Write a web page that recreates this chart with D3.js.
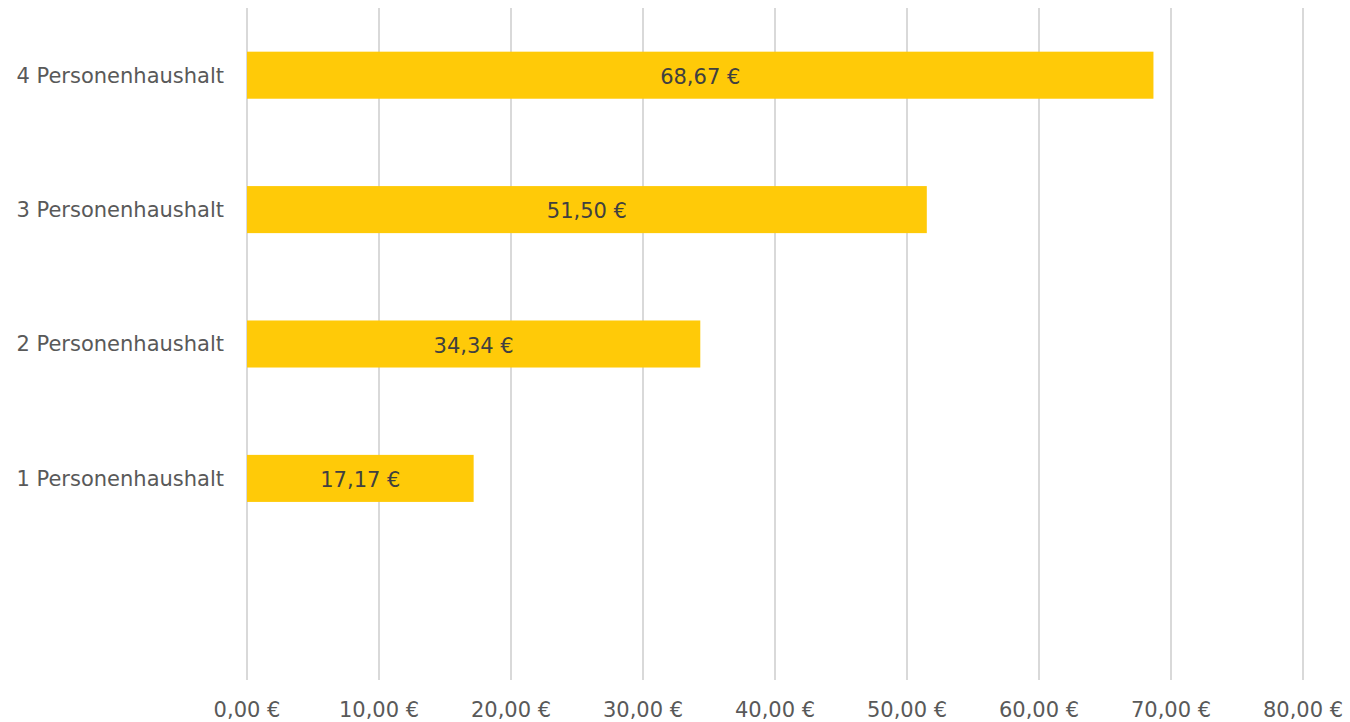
<!DOCTYPE html>
<html>
<head>
<meta charset="utf-8">
<script src="https://cdn.jsdelivr.net/npm/d3@7"></script>
<style>
  body { margin: 0; background: #fff; }
  text { font-family: "DejaVu Sans", sans-serif; }
</style>
</head>
<body>
<script>
// categories top to bottom, last slot is left empty like in the original
var categories = ["4 Personenhaushalt", "3 Personenhaushalt", "2 Personenhaushalt", "1 Personenhaushalt", ""];
var values = [68.67, 51.50, 34.34, 17.17, null];
var xTicks = [0, 10, 20, 30, 40, 50, 60, 70, 80];

var width = 1350, height = 722;
var margin = {left: 247, right: 47, top: 8, bottom: 42};

var fmt = function(d) { return d.toFixed(2).replace(".", ",") + " €"; };

var x = d3.scaleLinear()
    .domain([0, 80])
    .range([margin.left, width - margin.right]);

var y = d3.scaleBand()
    .domain(categories)
    .range([margin.top, height - margin.bottom])
    .paddingInner(0.65)
    .paddingOuter(0.325);

var svg = d3.select("body").append("svg")
    .attr("width", width)
    .attr("height", height);

// vertical gridlines
svg.append("g")
  .selectAll("line")
  .data(xTicks)
    .enter().append("line")
    .attr("x1", function(d) { return x(d); })
    .attr("x2", function(d) { return x(d); })
    .attr("y1", margin.top)
    .attr("y2", height - margin.bottom)
    .attr("stroke", "#d9d9d9")
    .attr("stroke-width", 2);

// x tick labels
svg.append("g")
  .selectAll("text")
  .data(xTicks)
    .enter().append("text")
    .attr("x", function(d) { return x(d); })
    .attr("y", 717)
    .attr("text-anchor", "middle")
    .attr("font-size", 21)
    .attr("fill", "#595959")
    .text(fmt);

var rows = categories.map(function(c, i) { return {cat: c, val: values[i]}; })
    .filter(function(d) { return d.val != null; });

// bars
svg.append("g")
  .selectAll("rect")
  .data(rows)
    .enter().append("rect")
    .attr("x", x(0))
    .attr("y", function(d) { return y(d.cat); })
    .attr("width", function(d) { return x(d.val) - x(0); })
    .attr("height", y.bandwidth())
    .attr("fill", "#ffca08");

// value labels in the bars
svg.append("g")
  .selectAll("text")
  .data(rows)
    .enter().append("text")
    .attr("x", function(d) { return (x(0) + x(d.val)) / 2; })
    .attr("y", function(d) { return y(d.cat) + y.bandwidth() / 2; })
    .attr("dy", "0.42em")
    .attr("text-anchor", "middle")
    .attr("font-size", 21)
    .attr("fill", "#404040")
    .text(function(d) { return fmt(d.val); });

// category labels
svg.append("g")
  .selectAll("text")
  .data(rows)
    .enter().append("text")
    .attr("x", 224)
    .attr("y", function(d) { return y(d.cat) + y.bandwidth() / 2; })
    .attr("dy", "0.35em")
    .attr("text-anchor", "end")
    .attr("font-size", 21)
    .attr("fill", "#595959")
    .text(function(d) { return d.cat; });
</script>
</body>
</html>
